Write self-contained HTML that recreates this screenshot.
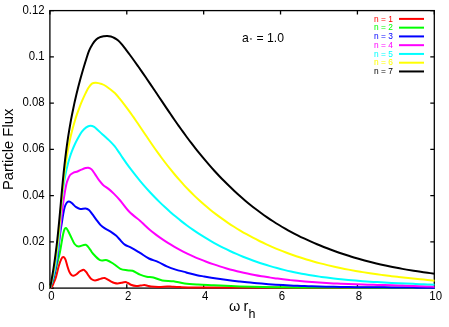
<!DOCTYPE html><html><head><meta charset="utf-8"><title>Particle Flux</title><style>
html,body{margin:0;padding:0;background:#fff;}
body{width:449px;height:327px;position:relative;overflow:hidden;font-family:"Liberation Sans",sans-serif;color:#000;}
.t{position:absolute;white-space:nowrap;line-height:1;}
.yt{font-size:11.4px;text-align:right;width:44.6px;left:0;transform:scaleY(1.08);transform-origin:50% 85%;}
.xt{font-size:11.4px;transform:scaleY(1.08);transform-origin:50% 85%;text-align:center;width:30px;}
.lg{font-size:8.4px;left:374px;}
#w{position:absolute;left:0;top:0;width:449px;height:327px;will-change:transform;background:#fff;}
</style></head><body><div id="w">
<svg width="449" height="327" viewBox="0 0 449 327" style="position:absolute;left:0;top:0">
<defs><clipPath id="c"><rect x="49.4" y="10.1" width="385.5" height="278.9"/></clipPath></defs>
<g stroke="#000" stroke-width="1.3" fill="none">
<rect x="49.9" y="10.6" width="384.4" height="277.5"/>
<path d="M49.90,288.15 v-4 M49.90,10.60 v4"/>
<path d="M126.78,288.15 v-4 M126.78,10.60 v4"/>
<path d="M203.66,288.15 v-4 M203.66,10.60 v4"/>
<path d="M280.54,288.15 v-4 M280.54,10.60 v4"/>
<path d="M357.42,288.15 v-4 M357.42,10.60 v4"/>
<path d="M434.30,288.15 v-4 M434.30,10.60 v4"/>
<path d="M49.90,288.15 h4 M434.30,288.15 h-4"/>
<path d="M49.90,241.89 h4 M434.30,241.89 h-4"/>
<path d="M49.90,195.63 h4 M434.30,195.63 h-4"/>
<path d="M49.90,149.38 h4 M434.30,149.38 h-4"/>
<path d="M49.90,103.12 h4 M434.30,103.12 h-4"/>
<path d="M49.90,56.86 h4 M434.30,56.86 h-4"/>
<path d="M49.90,10.60 h4 M434.30,10.60 h-4"/>
</g>
<g clip-path="url(#c)" fill="none" stroke-width="2" stroke-linejoin="round" stroke-linecap="butt">
<path d="M50.00,288.00 C50.33,287.77 51.40,287.40 52.00,286.60 C52.60,285.80 52.93,284.82 53.60,283.20 C54.27,281.58 55.15,279.73 56.00,276.90 C56.85,274.07 57.80,269.20 58.70,266.20 C59.60,263.20 60.62,260.43 61.40,258.90 C62.18,257.37 62.73,256.92 63.40,257.00 C64.07,257.08 64.73,257.87 65.40,259.40 C66.07,260.93 66.72,264.07 67.40,266.20 C68.08,268.33 68.82,270.75 69.50,272.20 C70.18,273.65 70.83,274.30 71.50,274.90 C72.17,275.50 72.72,275.87 73.50,275.80 C74.28,275.73 75.18,275.22 76.20,274.50 C77.22,273.78 78.60,272.22 79.60,271.50 C80.60,270.78 81.47,270.47 82.20,270.20 C82.93,269.93 83.32,269.57 84.00,269.90 C84.68,270.23 85.47,271.15 86.30,272.20 C87.13,273.25 88.10,275.02 89.00,276.20 C89.90,277.38 90.70,278.58 91.70,279.30 C92.70,280.02 93.77,280.50 95.00,280.50 C96.23,280.50 97.87,279.67 99.10,279.30 C100.33,278.93 101.47,278.52 102.40,278.30 C103.33,278.08 103.80,277.78 104.70,278.00 C105.60,278.22 106.72,279.00 107.80,279.60 C108.88,280.20 110.08,281.03 111.20,281.60 C112.32,282.17 113.40,282.68 114.50,283.00 C115.60,283.32 116.63,283.53 117.80,283.50 C118.97,283.47 120.25,283.03 121.50,282.80 C122.75,282.57 124.22,282.07 125.30,282.10 C126.38,282.13 127.08,282.57 128.00,283.00 C128.92,283.43 129.43,284.20 130.80,284.70 C132.17,285.20 134.58,285.85 136.20,286.00 C137.82,286.15 139.15,285.75 140.50,285.60 C141.85,285.45 143.13,285.08 144.30,285.10 C145.47,285.12 146.38,285.45 147.50,285.70 C148.62,285.95 149.07,286.38 151.00,286.60 C152.93,286.82 156.40,287.03 159.10,287.00 C161.80,286.97 165.05,286.45 167.20,286.40 C169.35,286.35 169.87,286.58 172.00,286.70 C174.13,286.82 176.03,286.98 180.00,287.10 C183.97,287.22 185.80,287.32 195.80,287.40 C205.80,287.48 200.20,287.48 240.00,287.60 C279.80,287.72 402.17,288.02 434.60,288.10" stroke="#ff0000"/>
<path d="M50.00,288.00 C50.58,286.50 52.23,283.33 53.50,279.00 C54.77,274.67 56.52,266.55 57.60,262.00 C58.68,257.45 59.03,256.53 60.00,251.70 C60.97,246.87 62.40,236.95 63.40,233.00 C64.40,229.05 64.88,227.67 66.00,228.00 C67.12,228.33 68.67,232.33 70.10,235.00 C71.53,237.67 73.18,242.08 74.60,244.00 C76.02,245.92 76.73,246.37 78.60,246.50 C80.47,246.63 83.87,244.28 85.80,244.80 C87.73,245.32 89.02,248.15 90.20,249.60 C91.38,251.05 91.27,251.75 92.90,253.50 C94.53,255.25 97.65,258.98 100.00,260.10 C102.35,261.22 104.72,259.55 107.00,260.20 C109.28,260.85 111.47,262.57 113.70,264.00 C115.93,265.43 118.18,267.75 120.40,268.80 C122.62,269.85 124.97,269.97 127.00,270.30 C129.03,270.63 130.43,270.08 132.60,270.80 C134.77,271.52 137.65,273.60 140.00,274.60 C142.35,275.60 144.47,276.32 146.70,276.80 C148.93,277.28 150.80,276.90 153.40,277.50 C156.00,278.10 158.95,279.77 162.30,280.40 C165.65,281.03 169.78,280.78 173.50,281.30 C177.22,281.82 180.52,282.95 184.60,283.50 C188.68,284.05 193.15,284.30 198.00,284.60 C202.85,284.90 206.70,285.00 213.70,285.30 C220.70,285.60 228.18,286.07 240.00,286.40 C251.82,286.73 267.93,287.12 284.60,287.30 C301.27,287.48 315.00,287.42 340.00,287.50 C365.00,287.58 418.83,287.75 434.60,287.80" stroke="#00ff00"/>
<path d="M50.00,288.00 C50.47,286.67 51.99,282.68 52.81,279.99 C53.62,277.30 54.29,274.58 54.89,271.85 C55.50,269.12 55.98,266.36 56.43,263.60 C56.88,260.84 57.24,258.06 57.60,255.28 C57.95,252.50 58.25,249.71 58.56,246.92 C58.88,244.13 59.17,241.33 59.50,238.55 C59.84,235.76 60.17,232.97 60.59,230.20 C61.01,227.42 61.55,224.68 62.00,221.90 C62.45,219.12 62.83,216.02 63.30,213.50 C63.77,210.98 64.25,208.55 64.80,206.80 C65.35,205.05 65.93,203.87 66.60,203.00 C67.27,202.13 68.10,201.72 68.80,201.60 C69.50,201.48 70.17,201.93 70.80,202.30 C71.43,202.67 71.70,202.98 72.60,203.80 C73.50,204.62 74.93,206.35 76.20,207.20 C77.47,208.05 78.63,208.68 80.20,208.90 C81.77,209.12 84.13,208.30 85.60,208.50 C87.07,208.70 87.88,209.15 89.00,210.10 C90.12,211.05 91.07,212.58 92.30,214.20 C93.53,215.82 95.05,218.02 96.40,219.80 C97.75,221.58 99.05,223.50 100.40,224.90 C101.75,226.30 102.80,227.08 104.50,228.20 C106.20,229.32 108.68,230.37 110.60,231.60 C112.52,232.83 114.52,234.32 116.00,235.60 C117.48,236.88 118.03,237.80 119.50,239.30 C120.97,240.80 122.80,243.18 124.80,244.60 C126.80,246.02 128.97,246.42 131.50,247.80 C134.03,249.18 137.10,251.12 140.00,252.90 C142.90,254.68 145.92,257.02 148.90,258.50 C151.88,259.98 154.92,260.50 157.90,261.80 C160.88,263.10 163.83,265.00 166.80,266.30 C169.77,267.60 172.73,268.67 175.70,269.60 C178.67,270.53 182.55,271.32 184.60,271.90 C186.65,272.48 185.93,272.52 188.00,273.06 C190.07,273.61 194.31,274.61 197.00,275.18 C199.69,275.75 201.74,276.05 204.12,276.47 C206.49,276.88 208.87,277.27 211.25,277.65 C213.62,278.03 216.00,278.40 218.38,278.75 C220.77,279.10 223.15,279.43 225.53,279.76 C227.91,280.08 230.30,280.38 232.69,280.68 C235.07,280.97 237.46,281.25 239.85,281.52 C242.24,281.78 244.63,282.04 247.02,282.28 C249.41,282.52 251.81,282.75 254.20,282.97 C256.59,283.19 258.99,283.40 261.38,283.59 C263.78,283.79 266.18,283.97 268.57,284.15 C270.97,284.32 273.37,284.49 275.77,284.64 C278.17,284.80 280.57,284.94 282.97,285.08 C285.37,285.22 287.78,285.35 290.18,285.47 C292.58,285.59 294.99,285.70 297.39,285.80 C299.80,285.90 302.20,286.00 304.61,286.09 C307.01,286.18 309.42,286.26 311.82,286.34 C314.23,286.41 316.64,286.48 319.05,286.54 C321.45,286.61 323.86,286.67 326.27,286.72 C328.68,286.77 331.09,286.82 333.49,286.86 C335.90,286.91 338.31,286.95 340.72,286.98 C343.13,287.02 345.54,287.05 347.95,287.08 C350.36,287.11 352.77,287.14 355.18,287.16 C357.59,287.18 360.00,287.20 362.41,287.22 C364.82,287.24 367.23,287.26 369.64,287.28 C372.04,287.29 374.45,287.31 376.86,287.32 C379.27,287.34 381.68,287.35 384.09,287.37 C386.50,287.38 388.91,287.40 391.31,287.41 C393.72,287.43 396.13,287.45 398.54,287.46 C400.94,287.48 403.35,287.50 405.76,287.52 C408.16,287.55 410.57,287.57 412.97,287.60 C415.38,287.63 417.78,287.65 420.19,287.69 C422.59,287.72 424.99,287.76 427.40,287.80 C429.80,287.84 433.40,287.91 434.60,287.93" stroke="#0000ff"/>
<path d="M50.00,288.00 C50.37,286.70 51.54,282.83 52.21,280.23 C52.89,277.63 53.50,275.01 54.06,272.39 C54.62,269.77 55.13,267.14 55.60,264.50 C56.07,261.86 56.49,259.22 56.89,256.57 C57.28,253.91 57.64,251.26 57.98,248.59 C58.32,245.93 58.62,243.27 58.93,240.60 C59.23,237.93 59.51,235.26 59.79,232.58 C60.08,229.91 60.35,227.24 60.63,224.56 C60.91,221.89 61.19,219.21 61.49,216.54 C61.79,213.87 62.10,211.20 62.44,208.54 C62.78,205.87 63.13,203.21 63.52,200.55 C63.92,197.90 64.35,195.19 64.80,192.60 C65.25,190.01 65.73,187.07 66.20,185.00 C66.67,182.93 66.95,181.87 67.60,180.20 C68.25,178.53 69.12,176.25 70.10,175.00 C71.08,173.75 72.27,173.28 73.50,172.70 C74.73,172.12 76.17,172.02 77.50,171.50 C78.83,170.98 80.15,170.18 81.50,169.60 C82.85,169.02 84.47,168.32 85.60,168.00 C86.73,167.68 87.30,167.47 88.30,167.70 C89.30,167.93 90.48,168.33 91.60,169.40 C92.72,170.47 93.77,172.30 95.00,174.10 C96.23,175.90 97.65,178.40 99.00,180.20 C100.35,182.00 101.52,183.45 103.10,184.90 C104.68,186.35 106.72,187.45 108.50,188.90 C110.28,190.35 111.85,191.67 113.80,193.60 C115.75,195.53 117.62,197.47 120.20,200.50 C122.78,203.53 126.00,208.43 129.30,211.80 C132.60,215.17 137.47,218.50 140.00,220.70 C142.53,222.90 142.83,223.44 144.50,225.00 C146.17,226.56 148.10,228.47 150.00,230.06 C151.89,231.66 153.88,233.12 155.85,234.59 C157.83,236.05 159.82,237.46 161.83,238.84 C163.83,240.21 165.86,241.54 167.90,242.83 C169.95,244.12 172.01,245.36 174.08,246.57 C176.16,247.77 178.25,248.93 180.36,250.06 C182.47,251.18 184.59,252.27 186.73,253.32 C188.87,254.36 191.02,255.37 193.19,256.35 C195.35,257.32 197.54,258.26 199.73,259.16 C201.92,260.06 204.13,260.93 206.35,261.77 C208.57,262.60 210.80,263.40 213.04,264.18 C215.29,264.95 217.54,265.68 219.81,266.39 C222.07,267.10 224.35,267.78 226.64,268.43 C228.92,269.08 231.22,269.70 233.52,270.29 C235.83,270.89 238.14,271.46 240.47,272.00 C242.79,272.54 245.12,273.05 247.46,273.55 C249.80,274.04 252.15,274.50 254.50,274.95 C256.85,275.40 259.22,275.82 261.58,276.22 C263.95,276.62 266.32,277.00 268.70,277.36 C271.08,277.72 273.46,278.06 275.85,278.39 C278.24,278.71 280.63,279.01 283.03,279.30 C285.42,279.59 287.82,279.86 290.22,280.12 C292.63,280.38 295.03,280.62 297.44,280.85 C299.85,281.07 302.26,281.29 304.67,281.49 C307.08,281.69 309.50,281.88 311.91,282.06 C314.33,282.24 316.75,282.40 319.17,282.56 C321.59,282.72 324.01,282.86 326.43,283.00 C328.85,283.13 331.27,283.26 333.69,283.38 C336.11,283.50 338.54,283.61 340.96,283.71 C343.38,283.82 345.80,283.91 348.23,284.01 C350.65,284.10 353.07,284.18 355.49,284.26 C357.91,284.34 360.33,284.42 362.75,284.49 C365.17,284.57 367.59,284.63 370.01,284.70 C372.42,284.77 374.84,284.83 377.25,284.89 C379.66,284.96 382.07,285.02 384.48,285.08 C386.89,285.14 389.30,285.20 391.70,285.26 C394.11,285.33 396.51,285.39 398.91,285.45 C401.30,285.52 403.70,285.59 406.09,285.66 C408.48,285.73 410.87,285.80 413.25,285.88 C415.64,285.96 418.02,286.04 420.39,286.13 C422.77,286.21 425.14,286.31 427.51,286.41 C429.88,286.51 433.42,286.67 434.60,286.73" stroke="#ff00ff"/>
<path d="M50.00,288.00 C50.34,286.84 51.40,283.36 52.03,281.02 C52.65,278.68 53.21,276.32 53.73,273.95 C54.25,271.59 54.72,269.20 55.15,266.81 C55.59,264.42 55.97,262.01 56.33,259.60 C56.69,257.19 57.01,254.77 57.31,252.34 C57.61,249.91 57.87,247.47 58.12,245.03 C58.37,242.59 58.60,240.14 58.81,237.69 C59.03,235.24 59.22,232.78 59.42,230.33 C59.61,227.87 59.79,225.41 59.98,222.95 C60.16,220.50 60.34,218.04 60.53,215.58 C60.72,213.13 60.91,210.67 61.12,208.22 C61.33,205.77 61.54,203.33 61.78,200.89 C62.02,198.45 62.28,196.01 62.56,193.59 C62.85,191.16 63.15,188.74 63.49,186.33 C63.84,183.92 64.20,181.52 64.62,179.13 C65.03,176.74 65.48,174.36 65.98,172.00 C66.47,169.64 67.01,167.28 67.61,164.95 C68.21,162.62 68.86,160.30 69.58,158.01 C70.30,155.71 71.08,153.44 71.94,151.19 C72.80,148.94 73.73,146.71 74.74,144.52 C75.76,142.32 76.85,140.15 78.04,138.01 C79.24,135.88 80.54,133.47 81.90,131.70 C83.26,129.93 84.82,128.40 86.20,127.40 C87.58,126.40 88.87,125.78 90.20,125.70 C91.53,125.62 92.85,126.08 94.20,126.90 C95.55,127.72 96.95,129.38 98.30,130.60 C99.65,131.82 100.97,133.00 102.30,134.20 C103.63,135.40 104.95,136.57 106.30,137.80 C107.65,139.03 109.02,140.20 110.40,141.60 C111.78,143.00 113.25,144.53 114.60,146.20 C115.95,147.87 117.18,149.69 118.50,151.59 C119.82,153.50 121.16,155.64 122.52,157.64 C123.89,159.64 125.28,161.63 126.69,163.60 C128.10,165.56 129.53,167.52 130.99,169.45 C132.45,171.38 133.93,173.30 135.43,175.19 C136.94,177.09 138.46,178.97 140.01,180.82 C141.56,182.68 143.13,184.52 144.72,186.34 C146.31,188.15 147.93,189.95 149.56,191.72 C151.20,193.50 152.86,195.25 154.54,196.98 C156.22,198.71 157.92,200.42 159.64,202.10 C161.36,203.78 163.10,205.45 164.86,207.08 C166.63,208.71 168.41,210.33 170.21,211.91 C172.02,213.49 173.84,215.05 175.68,216.59 C177.53,218.12 179.39,219.62 181.27,221.10 C183.16,222.58 185.06,224.03 186.98,225.45 C188.90,226.87 190.84,228.27 192.80,229.63 C194.76,230.99 196.74,232.33 198.74,233.63 C200.73,234.94 202.75,236.21 204.78,237.46 C206.81,238.70 208.86,239.91 210.92,241.10 C212.99,242.29 215.07,243.44 217.17,244.57 C219.27,245.69 221.38,246.79 223.51,247.86 C225.64,248.93 227.78,249.97 229.94,250.98 C232.10,251.99 234.27,252.97 236.46,253.93 C238.64,254.88 240.84,255.81 243.05,256.70 C245.26,257.60 247.48,258.47 249.72,259.31 C251.95,260.15 254.20,260.96 256.45,261.75 C258.71,262.53 260.98,263.29 263.26,264.02 C265.53,264.75 267.82,265.45 270.12,266.12 C272.41,266.80 274.72,267.45 277.03,268.07 C279.35,268.69 281.67,269.28 284.00,269.85 C286.33,270.41 288.67,270.96 291.01,271.47 C293.36,271.99 295.71,272.48 298.07,272.96 C300.42,273.43 302.79,273.88 305.16,274.30 C307.53,274.73 309.90,275.14 312.28,275.52 C314.66,275.91 317.05,276.27 319.44,276.62 C321.83,276.97 324.22,277.30 326.62,277.61 C329.02,277.92 331.42,278.21 333.82,278.49 C336.23,278.77 338.63,279.04 341.04,279.29 C343.45,279.53 345.86,279.77 348.27,279.99 C350.69,280.21 353.10,280.42 355.51,280.62 C357.93,280.82 360.35,281.00 362.76,281.18 C365.18,281.35 367.59,281.52 370.01,281.68 C372.42,281.83 374.84,281.98 377.25,282.12 C379.67,282.26 382.08,282.40 384.49,282.53 C386.90,282.65 389.31,282.77 391.71,282.89 C394.12,283.01 396.52,283.12 398.92,283.23 C401.32,283.34 403.72,283.45 406.11,283.55 C408.51,283.66 410.90,283.76 413.28,283.87 C415.66,283.97 418.05,284.07 420.42,284.18 C422.79,284.28 425.16,284.39 427.53,284.49 C429.89,284.60 433.42,284.77 434.60,284.83" stroke="#00ffff"/>
<path d="M50.00,288.00 C50.27,286.81 51.12,283.25 51.64,280.86 C52.15,278.48 52.63,276.08 53.09,273.68 C53.54,271.28 53.97,268.88 54.37,266.47 C54.78,264.05 55.15,261.63 55.51,259.21 C55.87,256.79 56.20,254.36 56.52,251.93 C56.83,249.50 57.13,247.06 57.41,244.62 C57.70,242.18 57.96,239.74 58.22,237.29 C58.48,234.84 58.72,232.39 58.96,229.94 C59.20,227.49 59.42,225.04 59.65,222.59 C59.87,220.13 60.09,217.68 60.30,215.22 C60.52,212.77 60.73,210.31 60.95,207.85 C61.17,205.40 61.38,202.94 61.60,200.49 C61.82,198.03 62.05,195.58 62.28,193.13 C62.51,190.68 62.75,188.23 63.01,185.78 C63.26,183.34 63.52,180.89 63.80,178.45 C64.07,176.01 64.36,173.57 64.67,171.14 C64.98,168.71 65.31,166.28 65.65,163.86 C66.00,161.43 66.37,159.01 66.76,156.60 C67.15,154.19 67.57,151.78 68.01,149.38 C68.45,146.98 68.92,144.58 69.42,142.20 C69.92,139.81 70.45,137.43 71.02,135.06 C71.58,132.69 72.18,130.32 72.81,127.97 C73.45,125.61 74.12,123.27 74.83,120.93 C75.54,118.59 76.29,116.27 77.09,113.95 C77.88,111.63 78.72,109.33 79.61,107.03 C80.49,104.74 81.42,102.45 82.40,100.18 C83.39,97.91 84.52,95.43 85.50,93.40 C86.48,91.37 87.23,89.63 88.30,88.00 C89.37,86.37 90.63,84.48 91.90,83.60 C93.17,82.72 94.27,82.63 95.90,82.70 C97.53,82.77 100.00,83.42 101.70,84.00 C103.40,84.58 103.92,84.70 106.10,86.20 C108.28,87.70 112.57,90.95 114.80,93.00 C117.03,95.05 117.94,96.63 119.46,98.48 C120.99,100.34 122.48,102.22 123.95,104.12 C125.42,106.02 126.86,107.95 128.28,109.89 C129.71,111.83 131.11,113.79 132.50,115.76 C133.89,117.73 135.26,119.71 136.63,121.70 C138.00,123.69 139.35,125.69 140.71,127.70 C142.06,129.70 143.41,131.71 144.76,133.71 C146.11,135.72 147.46,137.72 148.82,139.72 C150.18,141.72 151.54,143.72 152.92,145.71 C154.30,147.69 155.68,149.67 157.09,151.63 C158.49,153.59 159.91,155.55 161.34,157.48 C162.78,159.42 164.23,161.34 165.70,163.25 C167.16,165.16 168.65,167.05 170.15,168.93 C171.66,170.80 173.18,172.66 174.72,174.50 C176.27,176.34 177.83,178.16 179.41,179.96 C181.00,181.77 182.60,183.55 184.23,185.31 C185.86,187.07 187.51,188.81 189.18,190.52 C190.86,192.24 192.55,193.93 194.28,195.60 C196.00,197.27 197.75,198.91 199.52,200.53 C201.30,202.14 203.10,203.74 204.92,205.30 C206.75,206.87 208.60,208.40 210.48,209.92 C212.35,211.43 214.25,212.91 216.17,214.37 C218.10,215.83 220.04,217.26 222.01,218.66 C223.97,220.07 225.96,221.45 227.97,222.80 C229.97,224.15 232.00,225.47 234.05,226.77 C236.09,228.06 238.16,229.33 240.24,230.57 C242.32,231.81 244.42,233.03 246.53,234.21 C248.64,235.40 250.77,236.56 252.92,237.69 C255.06,238.82 257.22,239.92 259.39,241.00 C261.56,242.07 263.75,243.12 265.94,244.14 C268.14,245.16 270.35,246.15 272.57,247.11 C274.78,248.07 277.01,249.01 279.25,249.91 C281.49,250.82 283.73,251.69 285.99,252.54 C288.24,253.39 290.50,254.21 292.77,255.01 C295.04,255.80 297.32,256.57 299.61,257.31 C301.89,258.06 304.18,258.77 306.48,259.47 C308.78,260.16 311.09,260.83 313.40,261.48 C315.71,262.13 318.03,262.75 320.35,263.35 C322.68,263.96 325.01,264.54 327.35,265.10 C329.68,265.66 332.02,266.20 334.37,266.72 C336.72,267.24 339.07,267.74 341.42,268.22 C343.78,268.71 346.14,269.17 348.50,269.62 C350.87,270.07 353.24,270.50 355.61,270.92 C357.98,271.34 360.36,271.74 362.74,272.12 C365.12,272.51 367.50,272.88 369.88,273.24 C372.27,273.60 374.66,273.95 377.05,274.28 C379.43,274.62 381.83,274.94 384.22,275.25 C386.61,275.56 389.01,275.86 391.41,276.15 C393.80,276.44 396.20,276.73 398.60,277.00 C401.00,277.27 403.40,277.54 405.80,277.80 C408.20,278.05 410.60,278.30 413.00,278.55 C415.41,278.79 417.81,279.03 420.21,279.27 C422.61,279.50 425.01,279.73 427.41,279.96 C429.81,280.18 433.40,280.52 434.60,280.63" stroke="#ffff00"/>
<path d="M50.00,288.00 C50.23,286.81 50.95,283.26 51.39,280.88 C51.83,278.51 52.25,276.13 52.65,273.75 C53.05,271.36 53.44,268.98 53.80,266.59 C54.17,264.20 54.52,261.81 54.85,259.42 C55.19,257.02 55.50,254.63 55.81,252.23 C56.12,249.83 56.41,247.43 56.69,245.03 C56.97,242.63 57.24,240.22 57.50,237.82 C57.77,235.41 58.02,233.01 58.26,230.60 C58.51,228.19 58.74,225.78 58.97,223.37 C59.20,220.96 59.43,218.55 59.65,216.14 C59.87,213.73 60.09,211.31 60.31,208.90 C60.53,206.49 60.74,204.07 60.96,201.66 C61.17,199.25 61.38,196.83 61.60,194.42 C61.82,192.01 62.04,189.60 62.26,187.18 C62.49,184.77 62.71,182.36 62.94,179.95 C63.18,177.54 63.42,175.13 63.66,172.72 C63.91,170.31 64.16,167.90 64.43,165.50 C64.69,163.09 64.96,160.69 65.25,158.29 C65.53,155.88 65.83,153.48 66.14,151.08 C66.45,148.69 66.77,146.29 67.11,143.89 C67.45,141.50 67.80,139.11 68.17,136.72 C68.54,134.33 68.92,131.94 69.32,129.56 C69.72,127.18 70.13,124.79 70.56,122.42 C70.99,120.04 71.44,117.66 71.90,115.29 C72.36,112.92 72.84,110.55 73.34,108.18 C73.83,105.81 74.34,103.45 74.87,101.09 C75.40,98.73 75.95,96.37 76.51,94.02 C77.07,91.67 77.65,89.32 78.25,86.97 C78.85,84.62 79.47,82.28 80.10,79.94 C80.73,77.60 81.39,75.27 82.06,72.94 C82.73,70.61 83.41,68.28 84.12,65.96 C84.83,63.63 85.47,61.54 86.30,59.00 C87.13,56.46 88.02,53.25 89.10,50.70 C90.18,48.15 91.57,45.60 92.80,43.70 C94.03,41.80 95.28,40.40 96.50,39.30 C97.72,38.20 98.90,37.62 100.10,37.10 C101.30,36.58 102.50,36.40 103.70,36.20 C104.90,36.00 106.10,35.85 107.30,35.90 C108.50,35.95 109.72,36.15 110.90,36.50 C112.08,36.85 113.23,37.37 114.40,38.00 C115.57,38.63 116.73,39.33 117.90,40.30 C119.07,41.27 120.10,42.29 121.41,43.80 C122.71,45.31 124.30,47.49 125.73,49.36 C127.16,51.23 128.57,53.11 129.97,55.01 C131.38,56.90 132.77,58.81 134.15,60.72 C135.53,62.64 136.90,64.57 138.27,66.50 C139.63,68.43 140.99,70.38 142.34,72.33 C143.69,74.28 145.03,76.24 146.37,78.20 C147.71,80.16 149.04,82.13 150.37,84.11 C151.70,86.08 153.03,88.06 154.36,90.04 C155.69,92.01 157.01,94.00 158.34,95.98 C159.67,97.96 160.99,99.95 162.33,101.93 C163.66,103.91 164.99,105.90 166.33,107.88 C167.66,109.86 169.00,111.84 170.35,113.81 C171.70,115.78 173.05,117.76 174.41,119.72 C175.78,121.69 177.14,123.65 178.52,125.60 C179.90,127.55 181.29,129.50 182.69,131.44 C184.09,133.38 185.50,135.31 186.92,137.23 C188.34,139.15 189.78,141.06 191.23,142.96 C192.68,144.86 194.15,146.74 195.63,148.62 C197.11,150.49 198.60,152.36 200.11,154.21 C201.62,156.05 203.14,157.89 204.68,159.71 C206.22,161.53 207.78,163.34 209.35,165.13 C210.92,166.93 212.50,168.70 214.10,170.46 C215.71,172.22 217.32,173.97 218.96,175.69 C220.59,177.42 222.24,179.13 223.90,180.82 C225.57,182.51 227.25,184.18 228.95,185.84 C230.65,187.49 232.36,189.12 234.09,190.74 C235.83,192.35 237.57,193.94 239.34,195.51 C241.11,197.08 242.89,198.63 244.69,200.16 C246.49,201.69 248.31,203.19 250.15,204.67 C251.98,206.16 253.84,207.61 255.71,209.05 C257.58,210.48 259.47,211.89 261.38,213.27 C263.28,214.66 265.21,216.01 267.16,217.35 C269.10,218.68 271.06,219.98 273.05,221.26 C275.03,222.54 277.03,223.79 279.05,225.01 C281.07,226.23 283.10,227.43 285.16,228.60 C287.21,229.78 289.28,230.92 291.36,232.04 C293.45,233.16 295.55,234.26 297.66,235.32 C299.78,236.39 301.91,237.44 304.05,238.46 C306.19,239.48 308.35,240.48 310.52,241.45 C312.69,242.42 314.87,243.37 317.07,244.29 C319.26,245.22 321.47,246.12 323.69,247.00 C325.90,247.87 328.13,248.73 330.37,249.56 C332.61,250.40 334.86,251.21 337.11,251.99 C339.37,252.78 341.64,253.55 343.91,254.30 C346.18,255.04 348.47,255.76 350.76,256.47 C353.05,257.17 355.34,257.85 357.64,258.52 C359.95,259.18 362.26,259.82 364.57,260.44 C366.88,261.06 369.20,261.66 371.53,262.25 C373.85,262.83 376.18,263.39 378.51,263.94 C380.84,264.48 383.17,265.01 385.51,265.52 C387.85,266.02 390.19,266.51 392.53,266.99 C394.87,267.46 397.21,267.91 399.55,268.35 C401.89,268.78 404.24,269.20 406.58,269.61 C408.92,270.01 411.26,270.39 413.60,270.76 C415.94,271.13 418.28,271.49 420.62,271.82 C422.95,272.16 425.29,272.48 427.62,272.79 C429.95,273.10 433.44,273.52 434.60,273.67" stroke="#000000"/>
</g>
<g stroke-width="2" fill="none">
<path d="M399,18.90 H424" stroke="#ff0000"/>
<path d="M399,27.66 H424" stroke="#00ff00"/>
<path d="M399,36.42 H424" stroke="#0000ff"/>
<path d="M399,45.18 H424" stroke="#ff00ff"/>
<path d="M399,53.94 H424" stroke="#00ffff"/>
<path d="M399,62.70 H424" stroke="#ffff00"/>
<path d="M399,71.46 H424" stroke="#000000"/>
</g>
</svg>
<div class="t yt" style="top:282.1px">0</div>
<div class="t yt" style="top:235.9px">0.02</div>
<div class="t yt" style="top:189.6px">0.04</div>
<div class="t yt" style="top:143.4px">0.06</div>
<div class="t yt" style="top:97.1px">0.08</div>
<div class="t yt" style="top:50.9px">0.1</div>
<div class="t yt" style="top:4.6px">0.12</div>
<div class="t xt" style="left:36.3px;top:291px">0</div>
<div class="t xt" style="left:113.2px;top:291px">2</div>
<div class="t xt" style="left:190.1px;top:291px">4</div>
<div class="t xt" style="left:266.9px;top:291px">6</div>
<div class="t xt" style="left:343.8px;top:291px">8</div>
<div class="t xt" style="left:420.7px;top:291px">10</div>
<div class="t lg" style="top:14.5px;color:#ff0000">n = 1</div>
<div class="t lg" style="top:23.3px;color:#00ff00">n = 2</div>
<div class="t lg" style="top:32.0px;color:#0000ff">n = 3</div>
<div class="t lg" style="top:40.8px;color:#ff00ff">n = 4</div>
<div class="t lg" style="top:49.5px;color:#00ffff">n = 5</div>
<div class="t lg" style="top:58.3px;color:#ffff00">n = 6</div>
<div class="t lg" style="top:67.1px;color:#000000">n = 7</div>
<div class="t" style="left:242px;top:32.1px;font-size:12.2px">a<span style="font-size:6px;position:relative;top:0px;margin:0 1px 0 1px">*</span> = 1.0</div>
<div class="t" style="left:229px;top:299.1px;font-size:14.5px;word-spacing:-0.9px">&omega; r<span style="font-size:12.5px;position:relative;top:6.5px;left:0.3px">h</span></div>
<svg width="449" height="327" style="position:absolute;left:0;top:0"><text transform="translate(12.6,149.4) rotate(-90)" text-anchor="middle" font-family="Liberation Sans, sans-serif" font-size="14.8" fill="#000">Particle Flux</text></svg>
</div></body></html>
